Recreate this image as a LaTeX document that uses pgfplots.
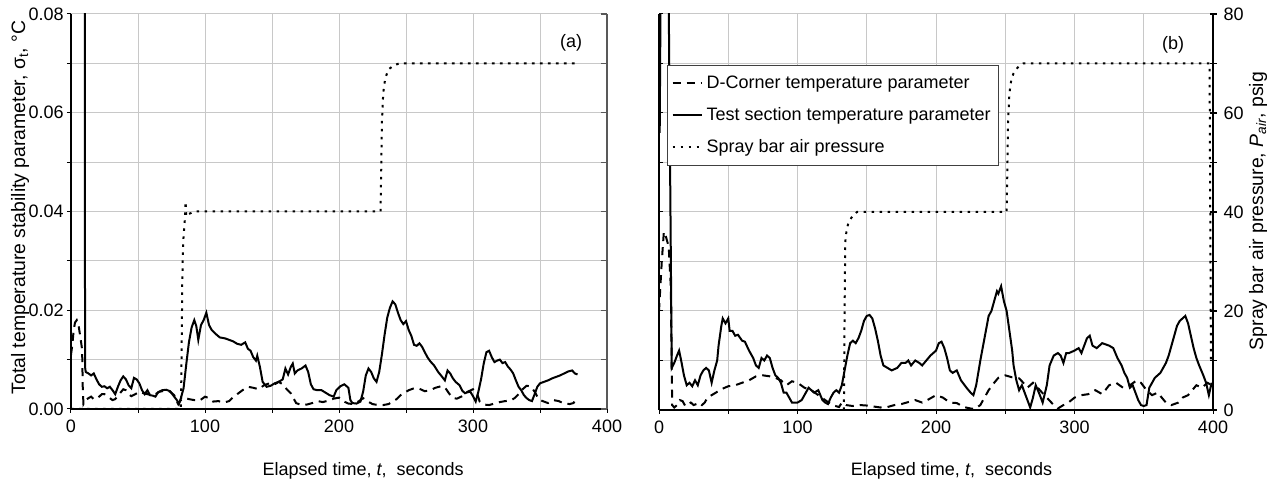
\documentclass[border=0pt]{standalone}
\usepackage{fontspec}
\setmainfont{Liberation Sans}
\usepackage{pgfplots}
\pgfplotsset{compat=1.18}
\definecolor{gridgray}{RGB}{200,200,200}
\pgfplotsset{
  base/.style={
    scale only axis, xmin=0, xmax=400,
    font=\fontsize{9}{10.8}\selectfont,
    /pgf/number format/assume math mode=true,
    scaled y ticks=false, scaled x ticks=false,
  },
  dashedline/.style={black, line width=1pt, dash pattern=on 4pt off 3pt},
  solidline/.style={black, line width=1pt},
  dottedline/.style={black, line width=1pt, dash pattern=on 1.3pt off 2.7pt},
}
\begin{document}
\begin{tikzpicture}
\path[use as bounding box] (0,0) rectangle (638.5pt,240pt);
% ---------------- panel (a) ----------------
\begin{axis}[base, at={(35.5pt,35.5pt)}, anchor=south west, width=268pt, height=197.5pt,
  ymin=0, ymax=0.08,
  axis x line*=bottom, axis y line*=left,
  axis line style={-, black, line width=0.8pt},
  xtick={0,100,200,300,400}, minor xtick={50,150,250,350},
  ytick={0,0.02,0.04,0.06,0.08}, minor ytick={0.01,0.03,0.05,0.07},
  grid=both, major grid style={gridgray, line width=0.5pt}, minor grid style={gridgray, line width=0.5pt},
  tick align=outside, major tick length=2pt, minor tick length=2pt,
  tick style={black, line width=0.5pt},
  yticklabel style={/pgf/number format/fixed, /pgf/number format/fixed zerofill, /pgf/number format/precision=2, inner xsep=1.5pt},
  xlabel={Elapsed time, \textit{t},\ \ seconds},
  xlabel style={at={(axis description cs:0.545,-0.169)}, anchor=base},
  ylabel={Total temperature stability parameter, σ\textsubscript{t}, °C},
  ylabel style={at={(axis description cs:-0.0951,0.51)}, anchor=center, font=\fontsize{9.7}{11}\selectfont},
]
\addplot[dashedline] coordinates {(0,0.011)(1,0.013)(2,0.016)(3,0.0175)(4.3,0.018)(5.5,0.0172)(7.3,0.014)(8.3,0.012)(8.8,0.004)(9.3,0.001)(11,0.0018)(13,0.0022)(15,0.0025)(17,0.002)(19,0.002)(21,0.0025)(23,0.003)(25,0.003)(27,0.0027)(29,0.0022)(31,0.0018)(33,0.002)(36,0.003)(39,0.004)(41,0.0038)(43,0.003)(45,0.0026)(48,0.003)(51,0.0035)(54,0.0032)(57,0.003)(60,0.0028)(63,0.003)(66,0.0035)(70,0.0037)(74,0.0035)(77,0.0028)(79,0.0015)(80,0.001)(82,0.0018)(85,0.0022)(88,0.002)(92,0.0018)(96,0.0017)(100,0.0025)(103,0.0022)(106,0.0015)(110,0.0016)(114,0.0013)(118,0.0016)(121,0.0024)(124,0.003)(128,0.0038)(132,0.0045)(136,0.0043)(140,0.004)(144,0.0048)(148,0.0052)(152,0.005)(155,0.0055)(158,0.005)(161,0.004)(164,0.0032)(166,0.0022)(168,0.0012)(172,0.0008)(176,0.0009)(180,0.0012)(184,0.0016)(188,0.0014)(192,0.0017)(196,0.0021)(200,0.0023)(203,0.0016)(207,0.0011)(211,0.001)(215,0.0016)(218,0.0022)(221,0.0016)(225,0.001)(229,0.0008)(233,0.0008)(237,0.001)(240,0.0015)(243,0.002)(246,0.0028)(249,0.0033)(252,0.0038)(256,0.0042)(260,0.0041)(264,0.0036)(268,0.0038)(272,0.0043)(276,0.0046)(279,0.0044)(282,0.0032)(285,0.0022)(288,0.0021)(292,0.0026)(296,0.0035)(300,0.004)(303,0.0032)(305,0.0015)(308,0.0009)(312,0.0008)(316,0.0011)(320,0.0014)(324,0.0016)(328,0.0017)(331,0.0022)(334,0.003)(337,0.004)(340,0.0047)(343,0.0046)(346,0.0035)(349,0.002)(352,0.0016)(356,0.0012)(360,0.0018)(364,0.0016)(368,0.0011)(372,0.001)(375,0.0012)(378,0.0025)};
\addplot[solidline] coordinates {(9.8,0.1)(10.2,0.1)(10.5,0.0085)(11,0.0075)(13,0.0072)(15,0.0068)(17,0.0072)(19,0.006)(21,0.005)(23,0.0045)(25,0.0046)(27,0.0042)(29,0.0045)(31,0.0038)(33,0.003)(35,0.0045)(37,0.0058)(39,0.0066)(41,0.006)(43,0.0048)(45,0.0042)(47,0.0063)(49,0.006)(51,0.0052)(53,0.0038)(55,0.003)(57,0.0038)(59,0.0028)(61,0.0027)(63,0.0025)(65,0.0034)(68,0.0038)(71,0.0039)(74,0.0036)(77,0.0025)(79,0.0018)(80.5,0.001)(82,0.0022)(84,0.0042)(86,0.009)(88,0.0135)(90,0.0165)(92,0.018)(93.5,0.0168)(95,0.014)(97,0.017)(99,0.018)(101,0.0195)(103,0.017)(105,0.016)(108,0.0152)(111,0.0145)(115,0.0143)(118,0.014)(121,0.0137)(124,0.0132)(127,0.013)(130,0.0135)(132,0.0122)(134,0.0118)(136,0.0105)(138,0.0098)(139,0.0108)(141,0.0085)(143,0.0055)(146,0.0045)(149,0.0047)(152,0.0052)(155,0.0055)(158,0.006)(160,0.0082)(162,0.007)(164,0.0085)(165.5,0.0092)(167,0.0072)(169,0.0078)(172,0.0082)(175,0.0088)(177,0.0075)(179,0.005)(181,0.004)(184,0.0038)(187,0.0038)(190,0.0033)(193,0.0028)(196,0.0025)(198,0.0038)(201,0.0046)(204,0.005)(207,0.0043)(208.5,0.0018)(210,0.0012)(213,0.0011)(216,0.0015)(218,0.0035)(220,0.0068)(222,0.0082)(224,0.0075)(226,0.0062)(228,0.0055)(230,0.0075)(232,0.011)(234,0.015)(236,0.0185)(238,0.0205)(240,0.0218)(242,0.0212)(244,0.0195)(246,0.018)(248,0.0172)(250,0.0178)(252,0.016)(254,0.0148)(256,0.013)(258,0.0128)(260,0.0133)(262,0.0126)(264,0.0115)(266,0.0105)(268,0.0097)(271,0.0088)(274,0.0075)(277,0.0065)(279,0.0058)(281,0.0078)(283,0.0072)(285,0.0062)(287,0.0055)(290,0.0048)(292,0.0037)(294,0.0032)(296,0.0034)(298,0.0035)(300,0.0026)(302,0.0015)(304,0.0035)(306,0.006)(308,0.0092)(310,0.0115)(312,0.0118)(314,0.0105)(316,0.0095)(318,0.0098)(320,0.01)(322,0.0093)(324,0.0095)(326,0.0086)(328,0.008)(330,0.0072)(332,0.0058)(334,0.0045)(336,0.0038)(338,0.0028)(340,0.0022)(342,0.0018)(344,0.0016)(346,0.003)(348,0.0045)(350,0.0052)(353,0.0055)(356,0.0058)(359,0.0062)(362,0.0065)(365,0.0068)(368,0.0072)(371,0.0076)(374,0.0078)(376,0.0072)(378,0.007)};
\end{axis}
\begin{axis}[base, at={(35.5pt,35.5pt)}, anchor=south west, width=268pt, height=197.5pt,
  ymin=0, ymax=80,
  axis x line=none, axis y line*=right,
  axis line style={-, black!65, line width=1pt},
  xtick=\empty, ytick={0,10,...,80}, yticklabels={},
  tick align=inside, major tick length=3pt, tick style={black!65, line width=0.6pt},
]
\addplot[dottedline] coordinates {(0,0)(82,0)(82.5,10)(83,25)(83.5,32)(84,35)(85,38.5)(85.5,42)(86,39)(88,39.5)(92,40)(120,40)(160,40)(200,40)(231,40)(231.5,48)(232,58)(233,64)(234.5,67)(237,68.8)(241,69.6)(245,70)(280,70)(320,70)(378,70)};
\end{axis}
\node[font=\fontsize{9}{10.8}\selectfont] at (285.5pt,218.5pt) {(a)};
% ---------------- panel (b) ----------------
\begin{axis}[base, at={(329.5pt,35pt)}, anchor=south west, width=277pt, height=198pt,
  ymin=0, ymax=0.08,
  axis x line*=bottom, axis y line*=left,
  axis line style={-, black, line width=0.8pt},
  xtick={0,100,200,300,400}, minor xtick={50,150,250,350},
  ytick={0,0.01,0.02,0.03,0.04,0.05,0.06,0.07,0.08}, yticklabels={},
  grid=both, major grid style={gridgray, line width=0.5pt}, minor grid style={gridgray, line width=0.5pt},
  xtick align=outside, ytick align=inside, major tick length=2pt, minor tick length=2pt,
  tick style={black, line width=0.5pt},
  xlabel={Elapsed time, \textit{t},\ \ seconds},
  xlabel style={at={(axis description cs:0.528,-0.166)}, anchor=base},
]
\addplot[dashedline] coordinates {(0,0.020)(2,0.030)(3.5,0.036)(5,0.035)(7,0.033)(8.5,0.025)(9.5,0.001)(11,0.0005)(13,0.001)(15,0.002)(17,0.0018)(19,0.0008)(21,0.001)(23,0.0015)(25,0.001)(27,0.0012)(29,0.0015)(31,0.001)(33,0.0015)(35,0.0025)(38,0.003)(41,0.0035)(45,0.0042)(50,0.0048)(55,0.005)(60,0.0055)(65,0.006)(70,0.0068)(75,0.007)(80,0.0068)(84,0.0065)(88,0.006)(92,0.005)(96,0.0058)(100,0.0055)(105,0.0045)(110,0.004)(115,0.003)(120,0.002)(125,0.001)(130,0.0006)(132,0.0015)(135,0.001)(140,0.0008)(145,0.001)(150,0.0009)(155,0.0007)(160,0.0005)(165,0.0006)(170,0.001)(175,0.0012)(180,0.0016)(185,0.002)(190,0.0015)(195,0.0022)(200,0.003)(205,0.0025)(210,0.0015)(215,0.0014)(220,0.0006)(225,0.0003)(228,0.0002)(232,0.001)(235,0.0025)(238,0.004)(242,0.0055)(245,0.0065)(250,0.007)(255,0.0066)(260,0.0064)(263,0.0055)(266,0.0045)(270,0.0055)(272,0.005)(275,0.004)(280,0.0025)(285,0.001)(288,0.0003)(292,0.001)(296,0.0016)(300,0.0025)(305,0.003)(310,0.0032)(315,0.004)(320,0.0032)(325,0.005)(330,0.0055)(335,0.0045)(340,0.005)(345,0.006)(348,0.0055)(352,0.004)(356,0.003)(360,0.0035)(363,0.0025)(366,0.0015)(370,0.001)(375,0.0015)(378,0.0025)(382,0.003)(385,0.004)(388,0.005)(392,0.0045)(396,0.0055)(399,0.005)};
\addplot[solidline] coordinates {(0.5,0.056)(1.5,0.1)(6.5,0.1)(9.2,0.0085)(11,0.0095)(13,0.011)(14.5,0.012)(16,0.010)(18,0.007)(20,0.005)(22,0.0055)(24,0.0048)(26,0.006)(28,0.005)(30,0.007)(32,0.008)(34,0.0085)(36,0.008)(38,0.0055)(40,0.008)(42,0.01)(43,0.013)(44,0.015)(45,0.017)(46,0.0185)(48,0.0175)(50,0.0185)(51,0.016)(53,0.016)(55,0.015)(57,0.0152)(60,0.014)(62,0.0138)(65,0.012)(68,0.0105)(70,0.009)(72,0.0085)(74,0.0105)(76,0.010)(78,0.011)(80,0.0105)(82,0.0085)(84,0.007)(86,0.0065)(88,0.0055)(90,0.0035)(92,0.0035)(94,0.0025)(96,0.0015)(98,0.0015)(100,0.0015)(103,0.002)(105,0.003)(108,0.0045)(110,0.004)(112,0.0035)(115,0.004)(118,0.002)(120,0.0015)(122,0.0012)(124,0.0025)(126,0.0035)(128,0.004)(130,0.0035)(132,0.005)(134,0.008)(136,0.011)(138,0.0135)(140,0.014)(142,0.0135)(144,0.0145)(146,0.016)(148,0.018)(150,0.019)(152,0.0192)(154,0.0185)(156,0.0165)(158,0.014)(160,0.011)(162,0.009)(165,0.0085)(168,0.008)(172,0.0085)(175,0.0095)(178,0.0095)(180,0.010)(182,0.009)(185,0.010)(188,0.0095)(190,0.009)(193,0.010)(196,0.011)(200,0.012)(202,0.0135)(204,0.0138)(206,0.0125)(208,0.0105)(210,0.008)(212,0.0075)(215,0.008)(218,0.006)(222,0.0045)(225,0.0035)(227,0.003)(229,0.005)(232,0.010)(234,0.013)(236,0.016)(238,0.019)(240,0.020)(242,0.022)(244,0.024)(245,0.0235)(247,0.025)(249,0.022)(251,0.020)(253,0.016)(255,0.012)(256,0.009)(258,0.006)(260,0.004)(262,0.005)(264,0.0035)(266,0.002)(268,0.0005)(270,0.0025)(272,0.005)(275,0.003)(277,0.0015)(280,0.005)(282,0.009)(285,0.011)(288,0.0115)(290,0.011)(292,0.0095)(294,0.0115)(296,0.0115)(300,0.012)(303,0.0125)(305,0.0115)(307,0.013)(309,0.0145)(311,0.015)(313,0.013)(316,0.0125)(320,0.0135)(325,0.013)(328,0.0125)(331,0.0105)(334,0.009)(336,0.0075)(338,0.0065)(340,0.0045)(342,0.005)(344,0.0035)(346,0.002)(348,0.001)(350,0.0008)(352,0.001)(354,0.0045)(356,0.0055)(358,0.0065)(360,0.007)(362,0.0075)(364,0.0085)(366,0.0095)(368,0.011)(370,0.013)(372,0.015)(374,0.017)(376,0.018)(378,0.0185)(380,0.019)(382,0.0175)(384,0.015)(386,0.0125)(388,0.0105)(390,0.009)(393,0.007)(395,0.0055)(397,0.003)(399,0.0055)};
\end{axis}
\begin{axis}[base, at={(329.5pt,35pt)}, anchor=south west, width=277pt, height=198pt,
  ymin=0, ymax=80,
  axis x line=none, axis y line*=right,
  axis line style={-, black, line width=0.8pt},
  xtick=\empty, ytick={0,20,40,60,80}, minor ytick={10,30,50,70},
  tick align=center, major tick length=3.5pt, minor tick length=3.5pt, tick style={black, line width=0.6pt},
  ylabel={Spray bar air pressure, \textit{P\textsubscript{air}}, psig},
  ylabel style={at={(axis description cs:1.0812,0.5025)}, anchor=center, font=\fontsize{9.7}{11}\selectfont},
  legend image code/.code={\draw[#1] (0pt,0pt) -- (14.5pt,0pt);},
  legend cell align=left,
  legend style={at={(axis description cs:0,1)}, anchor=north west, xshift=4pt, yshift=-25.5pt,
    draw=black!75, line width=0.6pt, fill=white, font=\fontsize{9}{10.8}\selectfont,
    inner xsep=2pt, inner ysep=3pt, row sep=4pt},
]
\addlegendimage{dashedline}
\addlegendentry{D-Corner temperature parameter}
\addlegendimage{solidline}
\addlegendentry{Test section temperature parameter}
\addplot[dottedline] coordinates {(133.5,0)(134,20)(134.5,34)(135.5,36.5)(137,38)(140,39.3)(143,40)(180,40)(220,40)(251,40)(251.5,48)(252,58)(253,64)(254.5,67)(256,68)(259,69.2)(263,70)(300,70)(350,70)(397.5,70)(398,40)(398.5,10)};
\addlegendentry{Spray bar air pressure}
\end{axis}
\node[font=\fontsize{9}{10.8}\selectfont] at (586.5pt,217.5pt) {(b)};
\end{tikzpicture}
\end{document}
